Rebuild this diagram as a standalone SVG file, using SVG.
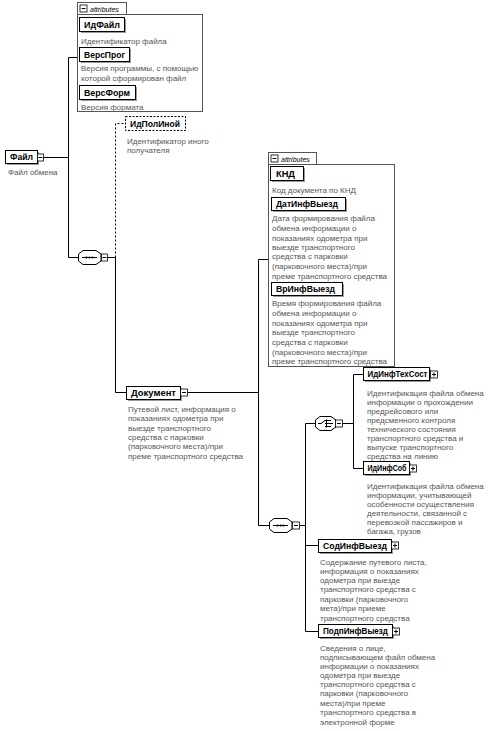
<svg xmlns="http://www.w3.org/2000/svg" width="488" height="731" viewBox="0 0 488 731">
<style>
.bg{fill:#fff}
.el{fill:#fff;stroke:#000;stroke-width:1}
.sh{fill:#9a9a9a}
.opt{fill:#fff;stroke:#000;stroke-width:1;stroke-dasharray:2,1.5}
.nm{font-family:"Liberation Sans",Arial,sans-serif;font-size:8.5px;font-weight:bold;fill:#000}
.ds{font-family:"Liberation Sans",Arial,sans-serif;font-size:8px;fill:#555}
.tab{font-family:"Liberation Sans",Arial,sans-serif;font-size:7px;font-style:italic;fill:#000}
.ln{fill:none;stroke:#000;stroke-width:1}
.dl{fill:none;stroke:#000;stroke-width:1;stroke-dasharray:2,2}
.grp{fill:#fff;stroke:#555;stroke-width:1}
.ic{fill:#fff;stroke:#000;stroke-width:0.8}
.cmp{fill:#fff;stroke:#000;stroke-width:1}
</style>
<rect class="bg" x="0" y="0" width="488" height="731"/>

<g id="connectors">
  <polyline class="ln" points="43.5,157.5 68.5,157.5"/>
  <line class="ln" x1="68.5" y1="57.5" x2="68.5" y2="257.5"/>
  <line class="ln" x1="68.5" y1="57.5" x2="77.5" y2="57.5"/>
  <line class="ln" x1="68.5" y1="257.5" x2="78" y2="257.5"/>
  <line class="ln" x1="107.5" y1="257.5" x2="115.5" y2="257.5"/>
  <polyline class="dl" points="115.5,257.5 115.5,123.5 125,123.5"/>
  <polyline class="ln" points="115.5,257.5 115.5,392.5 126,392.5"/>
  <line class="ln" x1="187.5" y1="392.5" x2="258.5" y2="392.5"/>
  <line class="ln" x1="258.5" y1="259.5" x2="258.5" y2="525.5"/>
  <line class="ln" x1="258.5" y1="259.5" x2="268" y2="259.5"/>
  <line class="ln" x1="258.5" y1="525.5" x2="269" y2="525.5"/>
  <line class="ln" x1="299.5" y1="525.5" x2="305.5" y2="525.5"/>
  <line class="ln" x1="305.5" y1="423.5" x2="305.5" y2="631.5"/>
  <line class="ln" x1="305.5" y1="423.5" x2="315" y2="423.5"/>
  <line class="ln" x1="342.5" y1="423.5" x2="353.5" y2="423.5"/>
  <line class="ln" x1="353.5" y1="374.5" x2="353.5" y2="468.5"/>
  <line class="ln" x1="353.5" y1="374.5" x2="363" y2="374.5"/>
  <line class="ln" x1="353.5" y1="468.5" x2="363" y2="468.5"/>
  <line class="ln" x1="305.5" y1="545.5" x2="318" y2="545.5"/>
  <line class="ln" x1="305.5" y1="631.5" x2="318" y2="631.5"/>
</g>

<g id="attributes1">
  <rect class="grp" x="77.5" y="14.5" width="125" height="97"/>
  <rect class="grp" x="77.5" y="2.5" width="49" height="12"/>
  <rect class="ic" x="80" y="5" width="7" height="7"/>
  <line class="ln" x1="81.5" y1="8.5" x2="85.5" y2="8.5"/>
  <text class="tab" x="90" y="11.5">attributes</text>
</g>

<g id="ИдФайл">
  <rect class="sh" x="81" y="19" width="45" height="14"/>
  <rect class="el" x="79.5" y="17.5" width="45" height="14"/>
  <text class="nm" x="84" y="27.5" textLength="36" lengthAdjust="spacingAndGlyphs">ИдФайл</text>
  <text class="ds" x="81" y="44">Идентификатор файла</text>
</g>
<g id="ВерсПрог">
  <rect class="sh" x="81" y="49" width="50" height="14"/>
  <rect class="el" x="79.5" y="47.5" width="50" height="14"/>
  <text class="nm" x="84" y="57.5" textLength="41" lengthAdjust="spacingAndGlyphs">ВерсПрог</text>
  <text class="ds" x="81" y="71">Версия программы, с помощью</text>
  <text class="ds" x="81" y="81">которой сформирован файл</text>
</g>
<g id="ВерсФорм">
  <rect class="sh" x="81" y="87" width="56" height="14"/>
  <rect class="el" x="79.5" y="85.5" width="56" height="14"/>
  <text class="nm" x="84" y="95.5" textLength="46" lengthAdjust="spacingAndGlyphs">ВерсФорм</text>
  <text class="ds" x="81" y="110">Версия формата</text>
</g>

<g id="ИдПолИной">
  <rect class="opt" x="125.5" y="116.5" width="60" height="14"/>
  <text class="nm" x="130" y="126.5" textLength="50" lengthAdjust="spacingAndGlyphs">ИдПолИной</text>
  <text class="ds" x="127" y="144">Идентификатор иного</text>
  <text class="ds" x="127" y="153">получателя</text>
</g>

<g id="Файл">
  <rect class="sh" x="7" y="152" width="32" height="13"/>
  <rect class="el" x="5.5" y="150.5" width="32" height="13"/>
  <text class="nm" x="10" y="160" textLength="23" lengthAdjust="spacingAndGlyphs">Файл</text>
  <rect class="ic" x="37.5" y="154" width="6" height="7"/>
  <line class="ln" x1="38.5" y1="157.5" x2="42.5" y2="157.5"/>
  <text class="ds" x="8" y="175">Файл обмена</text>
</g>

<g id="sequence1">
  <path class="cmp" d="M83,250.5 H96 L101,254 V261 L96,264.5 H83 L78.5,261 V254 Z"/>
  <line class="ln" x1="82" y1="257.5" x2="97" y2="257.5"/>
  <circle cx="86.5" cy="257.5" r="1.1"/><circle cx="89.5" cy="257.5" r="1.1"/><circle cx="92.5" cy="257.5" r="1.1"/>
  <rect class="ic" x="101.5" y="254" width="6" height="7"/>
  <line class="ln" x1="102.5" y1="257.5" x2="106.5" y2="257.5"/>
</g>

<g id="Документ">
  <rect class="sh" x="128" y="388" width="54" height="13"/>
  <rect class="el" x="126.5" y="386.5" width="54" height="13"/>
  <text class="nm" x="131" y="396" textLength="45" lengthAdjust="spacingAndGlyphs">Документ</text>
  <rect class="ic" x="180.5" y="389" width="7" height="7"/>
  <line class="ln" x1="182" y1="392.5" x2="186" y2="392.5"/>
  <text class="ds" x="128" y="412">Путевой лист, информация о</text>
  <text class="ds" x="128" y="421">показаниях одометра при</text>
  <text class="ds" x="128" y="431">выезде транспортного</text>
  <text class="ds" x="128" y="440">средства с парковки</text>
  <text class="ds" x="128" y="449">(парковочного места)/при</text>
  <text class="ds" x="128" y="459">преме транспортного средства</text>
</g>

<g id="attributes2">
  <rect class="grp" x="268.5" y="164.5" width="126" height="202"/>
  <rect class="grp" x="268.5" y="152.5" width="48" height="12"/>
  <rect class="ic" x="271" y="155" width="7" height="7"/>
  <line class="ln" x1="272.5" y1="158.5" x2="276.5" y2="158.5"/>
  <text class="tab" x="281" y="161.5">attributes</text>
</g>

<g id="КНД">
  <rect class="sh" x="272" y="168" width="33" height="14"/>
  <rect class="el" x="270.5" y="166.5" width="33" height="14"/>
  <text class="nm" x="276" y="176.5" textLength="19" lengthAdjust="spacingAndGlyphs">КНД</text>
  <text class="ds" x="272" y="193">Код документа по КНД</text>
</g>
<g id="ДатИнфВыезд">
  <rect class="sh" x="273" y="199" width="74" height="13"/>
  <rect class="el" x="271.5" y="197.5" width="74" height="13"/>
  <text class="nm" x="276" y="207" textLength="62" lengthAdjust="spacingAndGlyphs">ДатИнфВыезд</text>
  <text class="ds" x="272" y="221">Дата формирования файла</text>
  <text class="ds" x="272" y="231">обмена информации о</text>
  <text class="ds" x="272" y="241">показаниях одометра при</text>
  <text class="ds" x="272" y="250">выезде транспортного</text>
  <text class="ds" x="272" y="259">средства с парковки</text>
  <text class="ds" x="272" y="269">(парковочного места)/при</text>
  <text class="ds" x="272" y="279">преме транспортного средства</text>
</g>
<g id="ВрИнфВыезд">
  <rect class="sh" x="273" y="284" width="71" height="13"/>
  <rect class="el" x="271.5" y="282.5" width="71" height="13"/>
  <text class="nm" x="276" y="292" textLength="59" lengthAdjust="spacingAndGlyphs">ВрИнфВыезд</text>
  <text class="ds" x="272" y="306">Время формирования файла</text>
  <text class="ds" x="272" y="316">обмена информации о</text>
  <text class="ds" x="272" y="326">показаниях одометра при</text>
  <text class="ds" x="272" y="335">выезде транспортного</text>
  <text class="ds" x="272" y="345">средства с парковки</text>
  <text class="ds" x="272" y="355">(парковочного места)/при</text>
  <text class="ds" x="272" y="364">преме транспортного средства</text>
</g>

<g id="sequence2">
  <path class="cmp" d="M274,518.5 H287 L292,522 V529 L287,532.5 H274 L269.5,529 V522 Z"/>
  <line class="ln" x1="273" y1="525.5" x2="288" y2="525.5"/>
  <circle cx="277.5" cy="525.5" r="1.1"/><circle cx="280.5" cy="525.5" r="1.1"/><circle cx="283.5" cy="525.5" r="1.1"/>
  <rect class="ic" x="292.5" y="522" width="7" height="7"/>
  <line class="ln" x1="294" y1="525.5" x2="298" y2="525.5"/>
</g>

<g id="choice">
  <path class="cmp" d="M320,416.5 H331 L336,420 V427 L331,430.5 H320 L315.5,427 V420 Z"/>
  <polyline class="ln" points="318,423.5 321,423.5 325,420.5"/>
  <line class="ln" x1="326.5" y1="419.5" x2="326.5" y2="427.5"/>
  <line class="ln" x1="325" y1="420.5" x2="331" y2="420.5"/>
  <line class="ln" x1="325" y1="423.5" x2="333" y2="423.5"/>
  <line class="ln" x1="325" y1="426.5" x2="331" y2="426.5"/>
  <rect class="ic" x="335.5" y="420" width="7" height="7"/>
  <line class="ln" x1="337" y1="423.5" x2="341" y2="423.5"/>
</g>

<g id="ИдИнфТехСост">
  <rect class="sh" x="365" y="369" width="66" height="13"/>
  <rect class="el" x="363.5" y="367.5" width="66" height="13"/>
  <text class="nm" x="367.5" y="377" textLength="60" lengthAdjust="spacingAndGlyphs">ИдИнфТехСост</text>
  <rect class="ic" x="430.5" y="371" width="7" height="7"/>
  <line class="ln" x1="432" y1="374.5" x2="436" y2="374.5"/>
  <line class="ln" x1="434" y1="372.5" x2="434" y2="376.5"/>
  <text class="ds" x="367" y="396">Идентификация файла обмена</text>
  <text class="ds" x="367" y="405">информации о прохождении</text>
  <text class="ds" x="367" y="414">предрейсового или</text>
  <text class="ds" x="367" y="423">предсменного контроля</text>
  <text class="ds" x="367" y="432">технического состояния</text>
  <text class="ds" x="367" y="441">транспортного средства и</text>
  <text class="ds" x="367" y="450">выпуске транспортного</text>
  <text class="ds" x="367" y="459">средства на линию</text>
</g>

<g id="ИдИнфСоб">
  <rect class="sh" x="365" y="463" width="46" height="13"/>
  <rect class="el" x="363.5" y="461.5" width="46" height="13"/>
  <text class="nm" x="367.5" y="471" textLength="39" lengthAdjust="spacingAndGlyphs">ИдИнфСоб</text>
  <rect class="ic" x="409.5" y="465" width="7" height="7"/>
  <line class="ln" x1="411" y1="468.5" x2="415" y2="468.5"/>
  <line class="ln" x1="413" y1="466.5" x2="413" y2="470.5"/>
  <text class="ds" x="367" y="489">Идентификация файла обмена</text>
  <text class="ds" x="367" y="498">информации, учитывающей</text>
  <text class="ds" x="367" y="507">особенности осуществления</text>
  <text class="ds" x="367" y="516">деятельности, связанной с</text>
  <text class="ds" x="367" y="525">перевозкой пассажиров и</text>
  <text class="ds" x="367" y="534">багажа, грузов</text>
</g>

<g id="СодИнфВыезд">
  <rect class="sh" x="320" y="541" width="73" height="13"/>
  <rect class="el" x="318.5" y="539.5" width="73" height="13"/>
  <text class="nm" x="323" y="549" textLength="64" lengthAdjust="spacingAndGlyphs">СодИнфВыезд</text>
  <rect class="ic" x="391.5" y="542" width="7" height="7"/>
  <line class="ln" x1="393" y1="545.5" x2="397" y2="545.5"/>
  <line class="ln" x1="395" y1="543.5" x2="395" y2="547.5"/>
  <text class="ds" x="320" y="565">Содержание путевого листа,</text>
  <text class="ds" x="320" y="574">информация о показаниях</text>
  <text class="ds" x="320" y="583">одометра при выезде</text>
  <text class="ds" x="320" y="592">транспортного средства с</text>
  <text class="ds" x="320" y="602">парковки (парковочного</text>
  <text class="ds" x="320" y="611">мета)/при приеме</text>
  <text class="ds" x="320" y="621">транспортного средства</text>
</g>

<g id="ПодпИнфВыезд">
  <rect class="sh" x="320" y="626" width="74" height="13"/>
  <rect class="el" x="318.5" y="624.5" width="74" height="13"/>
  <text class="nm" x="323" y="634" textLength="65" lengthAdjust="spacingAndGlyphs">ПодпИнфВыезд</text>
  <rect class="ic" x="392.5" y="628" width="7" height="7"/>
  <line class="ln" x1="394" y1="631.5" x2="398" y2="631.5"/>
  <line class="ln" x1="396" y1="629.5" x2="396" y2="633.5"/>
  <text class="ds" x="320" y="651">Сведения о лице,</text>
  <text class="ds" x="320" y="660">подписывающем файл обмена</text>
  <text class="ds" x="320" y="669">информации о показаниях</text>
  <text class="ds" x="320" y="678">одометра при выезде</text>
  <text class="ds" x="320" y="687">транспортного средства с</text>
  <text class="ds" x="320" y="696">парковки (парковочного</text>
  <text class="ds" x="320" y="706">места)/при преме</text>
  <text class="ds" x="320" y="715">транспортного средства в</text>
  <text class="ds" x="320" y="725">электронной форме</text>
</g>
</svg>
